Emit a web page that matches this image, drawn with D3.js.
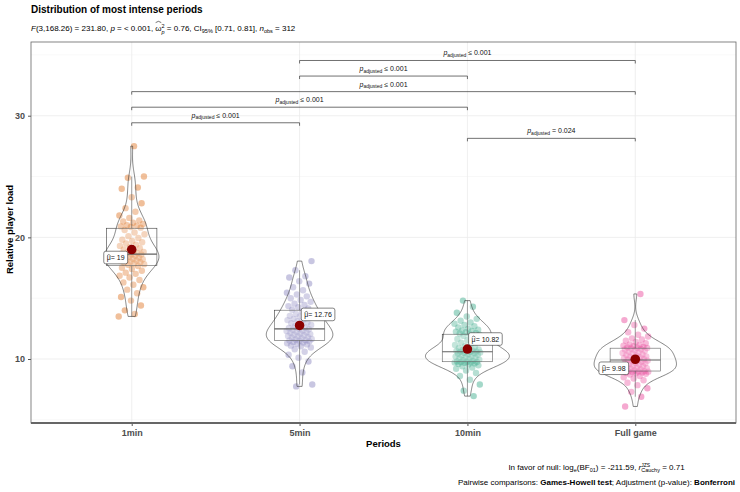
<!DOCTYPE html>
<html><head><meta charset="utf-8">
<script src="https://cdn.jsdelivr.net/npm/d3@7"></script>
<style>body{margin:0;background:#fff;} svg{display:block;font-family:"Liberation Sans",Arial,sans-serif;} text{white-space:pre;}</style>
</head><body>
<svg id="chart" width="740" height="492"></svg>
<script>
// ---------------- DATA ----------------
const categories = ["1min", "5min", "10min", "Full game"];
const values1min = [13.5, 13.7, 14.0, 14.4, 14.8, 15.1, 15.4, 15.7, 15.9, 16.1, 16.3, 16.5, 16.7, 16.85, 17.0, 17.1, 17.25, 17.4, 17.5, 17.65,
  17.75, 17.8, 17.85, 17.9, 17.95, 18.0, 18.05, 18.1, 18.15, 18.2, 18.25, 18.3, 18.35, 18.4, 18.45, 18.5, 18.55, 18.6, 18.6, 18.65,
  18.7, 18.75, 18.8, 18.9, 19.0, 19.1, 19.2, 19.3, 19.4, 19.5, 19.6, 19.7, 19.8, 19.95, 20.1, 20.25, 20.4, 20.6,
  20.8, 20.85, 20.9, 20.95, 21.0, 21.1, 21.2, 21.3, 21.4, 21.6, 21.8, 22.1, 22.4, 22.8, 23.3, 24.0, 24.1, 24.9, 25.0, 27.5];
const values5min = [7.75, 7.9, 8.9, 9.4, 9.8, 10.1, 10.35, 10.6, 10.8, 10.95, 11.05, 11.1, 11.2, 11.25, 11.3, 11.35, 11.4, 11.45, 11.5, 11.52,
  11.55, 11.6, 11.65, 11.7, 11.75, 11.8, 11.85, 11.9, 11.95, 12.0, 12.05, 12.1, 12.15, 12.2, 12.25, 12.3, 12.35, 12.4, 12.45, 12.5,
  12.55, 12.6, 12.7, 12.8, 12.9, 12.95, 13.0, 13.1, 13.2, 13.25, 13.3, 13.4, 13.5, 13.55, 13.6, 13.7, 13.8, 13.9,
  14.05, 14.15, 14.25, 14.35, 14.45, 14.55, 14.7, 14.85, 15.0, 15.15, 15.3, 15.45, 15.65, 15.9, 16.2, 16.4, 16.7, 16.8, 17.3, 18.05];
const values10min = [6.95, 7.4, 7.9, 8.3, 8.6, 8.85, 9.05, 9.2, 9.3, 9.4, 9.48, 9.55, 9.6, 9.64, 9.68, 9.71, 9.73, 9.75, 9.76, 9.77,
  9.8, 9.85, 9.9, 9.95, 10.0, 10.05, 10.1, 10.15, 10.2, 10.25, 10.3, 10.35, 10.4, 10.45, 10.48, 10.51, 10.54, 10.57, 10.59, 10.61,
  10.63, 10.66, 10.7, 10.74, 10.78, 10.83, 10.9, 10.97, 11.05, 11.15, 11.25, 11.35, 11.45, 11.55, 11.65, 11.78, 11.9, 12.0,
  12.05, 12.1, 12.15, 12.2, 12.25, 12.3, 12.35, 12.4, 12.5, 12.6, 12.7, 12.8, 12.9, 13.0, 13.15, 13.3, 13.5, 13.8, 14.3, 14.8];
const valuesFullGame = [6.1, 6.9, 7.3, 7.6, 7.85, 8.05, 8.25, 8.4, 8.5, 8.6, 8.72, 8.78, 8.83, 8.87, 8.9, 8.93, 8.96, 8.98, 9.0, 9.0,
  9.05, 9.1, 9.15, 9.2, 9.25, 9.3, 9.35, 9.4, 9.45, 9.5, 9.55, 9.6, 9.65, 9.7, 9.75, 9.8, 9.84, 9.87, 9.9, 9.94,
  9.98, 10.02, 10.07, 10.12, 10.17, 10.22, 10.27, 10.32, 10.38, 10.44, 10.5, 10.56, 10.62, 10.68, 10.73, 10.78, 10.82, 10.86,
  10.9, 10.93, 10.96, 11.0, 11.05, 11.1, 11.15, 11.2, 11.3, 11.4, 11.5, 11.6, 11.7, 11.85, 12.0, 12.2, 12.5, 12.8, 13.2, 15.35];
const meanValues = [19.00, 12.76, 10.82, 9.98];
const meanLabels = ["19", "12.76", "10.82", "9.98"];
const yTickValues = [10, 20, 30];
const comparisons = [["1min", "5min"], ["1min", "10min"], ["1min", "Full game"], ["5min", "10min"], ["5min", "Full game"], ["10min", "Full game"]];
const pValueTexts = ["\u2264 0.001", "\u2264 0.001", "\u2264 0.001", "\u2264 0.001", "\u2264 0.001", "= 0.024"];

// ---------------- LAYOUT / STYLE ----------------
const groupValues = [values1min, values5min, values10min, valuesFullGame];
const groupColors = ["#D95F02", "#7570B3", "#1B9E77", "#E7298A"];
const bracketLevels = [29.42, 30.70, 31.98, 33.26, 34.54, 28.14];
const labelOffsets = [[-16, 8], [18.5, -11], [18, -10], [-21.5, 9]];
const panel = {left: 31, right: 736, top: 42, bottom: 423};
const FONT = '"Liberation Sans", Arial, sans-serif';

const svg = d3.select("#chart");
svg.append("rect").attr("width", 740).attr("height", 492).attr("fill", "#fff");

const x = d3.scalePoint().domain(categories).range([panel.left, panel.right]).padding(0.6);
const y = d3.scaleLinear().domain([4.74, 36.06]).range([panel.bottom, panel.top]);

// rich text helper (pieces laid out left to right, optional stacking and hats)
function rich(parent, px, py, pieces, anchor, baseSize, color) {
  const g = parent.append("g").attr("fill", color || "#000");
  let cx = 0, hold = null;
  pieces.forEach(p => {
    const startX = hold ? hold.x : cx;
    const size = p.size || baseSize;
    const t = g.append("text").attr("x", startX).attr("y", p.dy || 0)
      .attr("font-size", size).text(p.t);
    if (p.italic) t.attr("font-style", "italic");
    if (p.bold) t.attr("font-weight", "bold");
    const w = t.node().getComputedTextLength();
    if (p.hat) {
      const top = -(p.hatY || 0.72) * size, hh = 0.16 * size;
      const x0 = startX + w * 0.05, xm = startX + w / 2, x1 = startX + w * 0.95;
      g.append("path").attr("d", `M ${x0} ${top} Q ${xm} ${top - hh * 2} ${x1} ${top}`)
        .attr("fill", "none").attr("stroke", color || "#000").attr("stroke-width", 0.55);
    }
    if (p.hold) { hold = {x: cx, w: w}; }
    else if (hold) { cx = hold.x + Math.max(w, hold.w); hold = null; }
    else cx += w;
  });
  const off = anchor === "end" ? cx : anchor === "middle" ? cx / 2 : 0;
  g.attr("transform", `translate(${px - off},${py})`);
  return cx;
}

// ---------------- GRID ----------------
const grid = svg.append("g");
[5, 15, 25, 35].forEach(v => grid.append("line").attr("x1", panel.left).attr("x2", panel.right)
  .attr("y1", y(v)).attr("y2", y(v)).attr("stroke", "#f3f3f3").attr("stroke-width", 0.6));
yTickValues.forEach(v => grid.append("line").attr("x1", panel.left).attr("x2", panel.right)
  .attr("y1", y(v)).attr("y2", y(v)).attr("stroke", "#ebebeb").attr("stroke-width", 0.8));
categories.forEach(c => grid.append("line").attr("x1", x(c)).attr("x2", x(c))
  .attr("y1", panel.top).attr("y2", panel.bottom).attr("stroke", "#ebebeb").attr("stroke-width", 0.8));

// ---------------- POINTS ----------------
const pts = svg.append("g");
groupValues.forEach((vals, gi) => {
  vals.forEach((v, i) => {
    const j = (((i * 0.6180339887 + gi * 0.37) % 1) * 2 - 1) * 13;
    pts.append("circle").attr("cx", x(categories[gi]) + j).attr("cy", y(v)).attr("r", 3.2)
      .attr("fill", groupColors[gi]).attr("fill-opacity", 0.4);
  });
});

// ---------------- BOXES ----------------
const boxHalf = 0.15 * x.step();
groupValues.forEach((vals, gi) => {
  const s = vals.slice().sort(d3.ascending);
  const q1 = d3.quantile(s, 0.25), med = d3.quantile(s, 0.5), q3 = d3.quantile(s, 0.75);
  const iqr = q3 - q1;
  const hi = d3.max(s.filter(v => v <= q3 + 1.5 * iqr));
  const lo = d3.min(s.filter(v => v >= q1 - 1.5 * iqr));
  const cx = x(categories[gi]);
  const g = svg.append("g").attr("stroke", "#3a3a3a").attr("stroke-width", 0.6);
  g.append("line").attr("x1", cx).attr("x2", cx).attr("y1", y(q3)).attr("y2", y(hi));
  g.append("line").attr("x1", cx).attr("x2", cx).attr("y1", y(q1)).attr("y2", y(lo));
  g.append("rect").attr("x", cx - boxHalf).attr("width", 2 * boxHalf)
    .attr("y", y(q3)).attr("height", y(q1) - y(q3)).attr("fill", "#fff").attr("fill-opacity", 0.2);
  g.append("line").attr("x1", cx - boxHalf).attr("x2", cx + boxHalf).attr("y1", y(med)).attr("y2", y(med))
    .attr("stroke-width", 1.1);
});

// ---------------- VIOLINS ----------------
function bwNrd0(v) {
  const s = d3.deviation(v);
  const q = (d3.quantile(v, 0.75) - d3.quantile(v, 0.25)) / 1.34;
  let lo = Math.min(s, q); if (!(lo > 0)) lo = s || 1;
  return 0.9 * lo * Math.pow(v.length, -0.2);
}
const dens = groupValues.map(vals => {
  const s = vals.slice().sort(d3.ascending);
  const bw = bwNrd0(s);
  const mn = s[0], mx = s[s.length - 1];
  const n = 160;
  return d3.range(n + 1).map(k => {
    const t = mn + (mx - mn) * k / n;
    const d = d3.mean(s, xi => Math.exp(-0.5 * ((t - xi) / bw) ** 2)) / (bw * Math.sqrt(2 * Math.PI));
    return [t, d];
  });
});
const maxD = d3.max(dens, d => d3.max(d, e => e[1]));
const wScale = d3.scaleLinear().domain([0, maxD]).range([0, 0.25 * x.step()]);
dens.forEach((d, gi) => {
  const cx = x(categories[gi]);
  const area = d3.area().y(e => y(e[0])).x0(e => cx - wScale(e[1])).x1(e => cx + wScale(e[1]));
  svg.append("path").attr("d", area(d)).attr("fill", "#fff").attr("fill-opacity", 0.2)
    .attr("stroke", "#333").attr("stroke-width", 0.6);
});

// ---------------- AXES ----------------
const axL = svg.append("g").attr("transform", `translate(${panel.left},0)`)
  .call(d3.axisLeft(y).tickValues(yTickValues).tickSize(3).tickPadding(3));
axL.select(".domain").remove();
axL.selectAll("line").attr("stroke", "#555");
axL.selectAll("text").attr("font-family", FONT).attr("font-size", 9).attr("font-weight", "bold").attr("fill", "#4d4d4d");
const axB = svg.append("g").attr("transform", `translate(0,${panel.bottom})`)
  .call(d3.axisBottom(x).tickSize(3).tickPadding(4));
axB.select(".domain").remove();
axB.selectAll("line").attr("stroke", "#555");
axB.selectAll("text").attr("font-family", FONT).attr("font-size", 9).attr("font-weight", "bold").attr("fill", "#4d4d4d");

// panel border
svg.append("rect").attr("x", panel.left).attr("y", panel.top).attr("width", panel.right - panel.left)
  .attr("height", panel.bottom - panel.top).attr("fill", "none").attr("stroke", "#666").attr("stroke-width", 0.8);
svg.append("line").attr("x1", panel.left).attr("x2", panel.right).attr("y1", panel.bottom).attr("y2", panel.bottom)
  .attr("stroke", "#666").attr("stroke-width", 2);

// ---------------- BRACKETS ----------------
const br = svg.append("g");
comparisons.forEach((c, i) => {
  const x1 = x(c[0]), x2 = x(c[1]), yy = y(bracketLevels[i]);
  br.append("path").attr("d", `M${x1},${yy + 3}V${yy}H${x2}V${yy + 3}`).attr("fill", "none")
    .attr("stroke", "#333").attr("stroke-width", 0.7);
  rich(br, (x1 + x2) / 2, yy - 5, [
    {t: "p", italic: true, size: 7},
    {t: "adjusted", size: 5, dy: 1.5},
    {t: " " + pValueTexts[i], size: 7}
  ], "middle", 7, "#111");
});

// ---------------- MEANS ----------------
meanValues.forEach((m, gi) => {
  const cx = x(categories[gi]), cy = y(m);
  svg.append("circle").attr("cx", cx).attr("cy", cy).attr("r", 4.8).attr("fill", "#8B0000");
});
meanValues.forEach((m, gi) => {
  const cx = x(categories[gi]), cy = y(m);
  const lx = cx + labelOffsets[gi][0], ly = cy + labelOffsets[gi][1];
  const g = svg.append("g");
  const rect = g.append("rect");
  const w = rich(g, lx, ly + 2.5, [{t: "\u03BC", size: 7, hat: true, hatY: 0.62}, {t: "= " + meanLabels[gi], size: 7}], "middle", 7, "#111");
  rect.attr("x", lx - w / 2 - 3).attr("y", ly - 6.3).attr("width", w + 6).attr("height", 12.6)
    .attr("rx", 2).attr("fill", "#fff").attr("stroke", "#333").attr("stroke-width", 0.6);
});

// ---------------- TEXT ----------------
svg.append("text").attr("x", 31).attr("y", 13).attr("font-size", 10).attr("font-weight", "bold")
  .attr("font-family", FONT).text("Distribution of most intense periods");
rich(svg, 31, 31, [
  {t: "F", italic: true}, {t: "(3,168.26) = 231.80, "}, {t: "p", italic: true}, {t: " = < 0.001, "},
  {t: "\u03C9", hat: true, hatY: 1.05}, {t: "2", size: 5.5, dy: -3.5, hold: true}, {t: "p", italic: true, size: 5.5, dy: 2.5},
  {t: " = 0.76, CI"}, {t: "95%", size: 5.5, dy: 2}, {t: " [0.71, 0.81], "},
  {t: "n", italic: true}, {t: "obs", size: 5.5, dy: 2}, {t: " = 312"}
], "start", 8, "#000");

svg.append("text").attr("transform", `translate(13,${(panel.top + panel.bottom) / 2 - 3}) rotate(-90)`)
  .attr("text-anchor", "middle").attr("font-size", 9.5).attr("font-weight", "bold").attr("font-family", FONT)
  .text("Relative player load");
svg.append("text").attr("x", (panel.left + panel.right) / 2).attr("y", 447).attr("text-anchor", "middle")
  .attr("font-size", 9.5).attr("font-weight", "bold").attr("font-family", FONT).text("Periods");

// caption (two centred lines, block right-aligned)
const capPieces2 = [{t: "Pairwise comparisons: "}, {t: "Games-Howell test", bold: true},
  {t: "; Adjustment (p-value): "}, {t: "Bonferroni", bold: true}];
const tmp = svg.append("g").attr("opacity", 0);
const w2 = rich(tmp, 0, 0, capPieces2, "start", 8);
tmp.remove();
const capC = 735 - w2 / 2;
rich(svg, capC, 485, capPieces2, "middle", 8, "#000");
rich(svg, capC, 470, [
  {t: "In favor of null: log"}, {t: "e", size: 5.5, dy: 2}, {t: "(BF"}, {t: "01", size: 5.5, dy: 2},
  {t: ") = -211.59, "}, {t: "r", italic: true}, {t: "JZS", size: 5, dy: -3.5, hold: true},
  {t: "Cauchy", size: 5.5, dy: 2}, {t: " = 0.71"}
], "middle", 8, "#000");
</script>
</body></html>
